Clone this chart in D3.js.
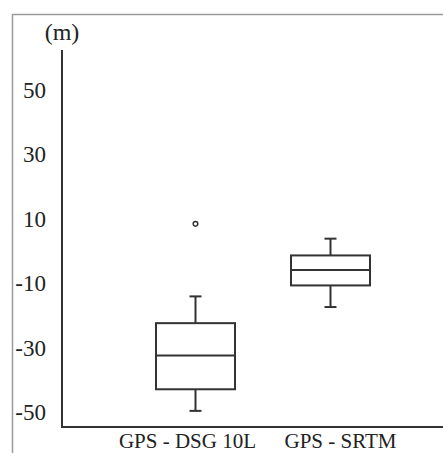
<!DOCTYPE html>
<html>
<head>
<meta charset="utf-8">
<script src="https://cdn.jsdelivr.net/npm/d3@7/dist/d3.min.js"></script>
<style>
  body { margin: 0; background: #fff; }
  svg { display: block; }
  text { font-family: "Liberation Serif", "Times New Roman", serif; fill: #222; }
</style>
</head>
<body>
<div class="svg_container"></div>
<script>
// data
var categories = ["GPS - DSG 10L", "GPS - SRTM"];
var whiskerLow = [-49.7, -17.5];
var q1 = [-43, -10.8];
var median = [-32.5, -6.0];
var q3 = [-22.5, -1.5];
var whiskerHigh = [-14.2, 3.7];
var outliers = [[8.3], []];
var yTicks = [50, 30, 10, -10, -30, -50];

const WIDTH = 443;
const HEIGHT = 453;
const AXIS_X = 62;
const AXIS_TOP = 50;
const AXIS_BOTTOM = 427;
const BOX_W = 79;
const CAP_W = 12;
const LABEL_DX = [-8, 10];

var translate = function (x, y) {
    return "translate(" + x + "," + y + ")";
};

var yScale = d3.scaleLinear()
    .domain([-54.7, 62.2])
    .range([AXIS_BOTTOM, AXIS_TOP]);

var xScale = d3.scalePoint()
    .domain(categories)
    .range([195.5, 330.5]);

var boxes = categories.map(function (c, i) {
    return {
        name: c, lo: whiskerLow[i], q1: q1[i], med: median[i],
        q3: q3[i], hi: whiskerHigh[i], out: outliers[i], dx: LABEL_DX[i]
    };
});

var svg = d3.select('.svg_container').append('svg')
    .attr('width', WIDTH)
    .attr('height', HEIGHT);

// grey frame (top and left edges only visible)
svg.append('path')
    .attr('d', 'M12.5,' + HEIGHT + 'V14.5H' + WIDTH)
    .attr('fill', 'none')
    .attr('stroke', '#9a9a9a')
    .attr('stroke-width', 1.5);

// axes
var yAxis = d3.axisLeft(yScale)
    .tickValues(yTicks)
    .tickSize(0)
    .tickPadding(16)
    .tickFormat(function (d) { return String(d); });

var yg = svg.append('g')
    .attr('transform', translate(AXIS_X, 0))
    .call(yAxis);
yg.attr('font-family', null).attr('font-size', null);
yg.select('.domain').remove();
yg.selectAll('text')
    .style('font-size', '23px')
    .attr('dy', '0.34em')
    .attr('fill', '#222');

svg.append('line')
    .attr('x1', AXIS_X).attr('x2', AXIS_X)
    .attr('y1', AXIS_TOP).attr('y2', AXIS_BOTTOM)
    .attr('stroke', '#333').attr('stroke-width', 2);

svg.append('line')
    .attr('x1', AXIS_X - 1).attr('x2', WIDTH)
    .attr('y1', AXIS_BOTTOM).attr('y2', AXIS_BOTTOM)
    .attr('stroke', '#333').attr('stroke-width', 2);

svg.append('text')
    .attr('x', AXIS_X)
    .attr('y', 40)
    .attr('text-anchor', 'middle')
    .style('font-size', '24px')
    .text('(m)');

// category labels
svg.selectAll('.cat').data(boxes).enter().append('text')
    .attr('class', 'cat')
    .attr('x', function (d) { return xScale(d.name) + d.dx; })
    .attr('y', 448)
    .attr('text-anchor', 'middle')
    .style('font-size', '21px')
    .text(function (d) { return d.name; });

// box plots
var g = svg.selectAll('.box').data(boxes).enter().append('g')
    .attr('class', 'box')
    .attr('transform', function (d) { return translate(xScale(d.name), 0); })
    .attr('stroke', '#333')
    .attr('stroke-width', 2)
    .attr('fill', 'none');

g.append('line')
    .attr('x1', 0).attr('x2', 0)
    .attr('y1', function (d) { return yScale(d.hi); })
    .attr('y2', function (d) { return yScale(d.q3); });

g.append('line')
    .attr('x1', 0).attr('x2', 0)
    .attr('y1', function (d) { return yScale(d.q1); })
    .attr('y2', function (d) { return yScale(d.lo); });

g.append('line')
    .attr('x1', -CAP_W / 2).attr('x2', CAP_W / 2)
    .attr('y1', function (d) { return yScale(d.hi); })
    .attr('y2', function (d) { return yScale(d.hi); });

g.append('line')
    .attr('x1', -CAP_W / 2).attr('x2', CAP_W / 2)
    .attr('y1', function (d) { return yScale(d.lo); })
    .attr('y2', function (d) { return yScale(d.lo); });

g.append('rect')
    .attr('x', -BOX_W / 2)
    .attr('width', BOX_W)
    .attr('y', function (d) { return yScale(d.q3); })
    .attr('height', function (d) { return yScale(d.q1) - yScale(d.q3); });

g.append('line')
    .attr('x1', -BOX_W / 2).attr('x2', BOX_W / 2)
    .attr('y1', function (d) { return yScale(d.med); })
    .attr('y2', function (d) { return yScale(d.med); });

g.selectAll('circle').data(function (d) { return d.out; }).enter().append('circle')
    .attr('cx', 0)
    .attr('cy', function (v) { return yScale(v); })
    .attr('r', 2.3)
    .attr('stroke-width', 1.5);
</script>
</body>
</html>
